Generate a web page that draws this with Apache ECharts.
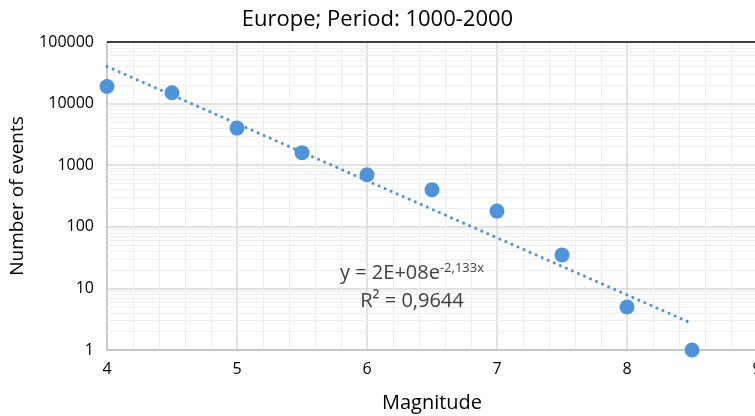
<!DOCTYPE html>
<html><head><meta charset="utf-8">
<script src="https://cdn.jsdelivr.net/npm/echarts@6/dist/echarts.min.js"></script>
<style>html,body{margin:0;padding:0;background:#fff}#c{width:755px;height:416px}</style>
</head><body><div id="c"></div>
<script>
const magnitudes = [4, 4.5, 5, 5.5, 6, 6.5, 7, 7.5, 8, 8.5];
const events = [19000, 15000, 4000, 1600, 700, 400, 180, 35, 5, 1];
const trendX = [4, 8.5];
const trendY = [40000, 2.7];
const yTicks = [1, 10, 100, 1000, 10000, 100000];
const minorY = [2,3,4,5,6,7,8,9,20,30,40,50,60,70,80,90,200,300,400,500,600,700,800,900,2000,3000,4000,5000,6000,7000,8000,9000,20000,30000,40000,50000,60000,70000,80000,90000];

const FONT = '"Open Sans", "Liberation Sans", sans-serif';
const BLUE = '#4f93d8';
const chart = echarts.init(document.getElementById('c'), null, {renderer:'canvas'});
chart.setOption({
  animation: false,
  title: {
    text: 'Europe; Period: 1000-2000', left: 'center', top: 4,
    textStyle: {fontFamily: FONT, fontSize: 22, fontWeight: 'normal', color: '#000'}
  },
  grid: {left: 107, top: 42, width: 650, height: 308, containLabel: false, outerBoundsMode: 'none'},
  xAxis: {
    type: 'value', min: 4, max: 9, interval: 1,
    name: 'Magnitude', nameLocation: 'middle', nameGap: 43,
    nameTextStyle: {fontFamily: FONT, fontSize: 20, color: '#000'},
    axisLine: {show: true, lineStyle: {color: '#bfbfbf', width: 1.5}},
    axisTick: {show: false},
    axisLabel: {fontFamily: FONT, fontSize: 16, color: '#000', margin: 11},
    splitLine: {show: true, lineStyle: {color: '#d9d9d9', width: 1.5}},
    minorTick: {show: false, splitNumber: 5},
    minorSplitLine: {show: true, lineStyle: {color: '#eeeeee', width: 1}}
  },
  yAxis: {
    type: 'log', logBase: 10, min: 1, max: 100000,
    name: 'Number of events', nameLocation: 'middle', nameGap: 80, nameRotate: 90,
    nameTextStyle: {fontFamily: FONT, fontSize: 19, color: '#000'},
    axisLine: {show: true, lineStyle: {color: '#bfbfbf', width: 1.5}},
    axisTick: {show: false},
    axisLabel: {fontFamily: FONT, fontSize: 16, color: '#000', margin: 13,
      customValues: yTicks, formatter: v => String(Math.round(v))},
    splitLine: {show: true, lineStyle: {color: '#d9d9d9', width: 1.5}}
  },
  series: [
    {
      type: 'line', data: minorY.map(v => [4, v]), symbol: 'none', lineStyle: {opacity: 0},
      silent: true, z: 1,
      markLine: {
        silent: true, symbol: 'none', label: {show: false}, animation: false, z: 1,
        lineStyle: {color: '#eeeeee', width: 1, type: 'solid'},
        data: minorY.map(v => ({yAxis: v})).concat([{yAxis: 100000, lineStyle: {color: '#404040', width: 2}}])
      }
    },
    {
      type: 'line', data: trendX.map((x, i) => [x, trendY[i]]), symbol: 'none', z: 3,
      lineStyle: {color: BLUE, width: 3, type: [0.1, 6.5], cap: 'round'}
    },
    {
      type: 'scatter', data: magnitudes.map((x, i) => [x, events[i]]), z: 10,
      symbol: 'circle', symbolSize: 15,
      itemStyle: {color: BLUE, opacity: 1}
    }
  ],
  graphic: [
    {
      type: 'text', x: 412, y: 273, z: 20,
      style: {
        text: '{a|y = 2E+08e}{s|-2,133x}',
        align: 'center', verticalAlign: 'middle',
        rich: {
          a: {fontFamily: FONT, fontSize: 20, fill: '#404040', lineHeight: 22},
          s: {fontFamily: FONT, fontSize: 13, fill: '#404040', lineHeight: 22, verticalAlign: 'top'}
        }
      }
    },
    {
      type: 'text', x: 412, y: 301, z: 20,
      style: {
        text: 'R² = 0,9644', align: 'center', verticalAlign: 'middle',
        fontFamily: FONT, fontSize: 20, fill: '#404040'
      }
    }
  ]
});
</script></body></html>
